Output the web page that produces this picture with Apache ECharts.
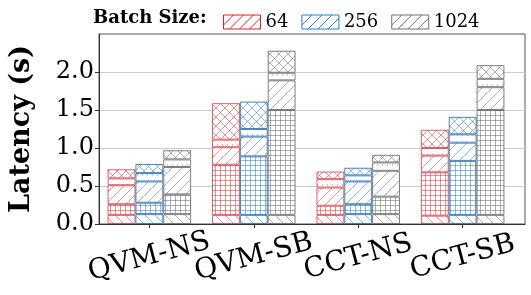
<!DOCTYPE html>
<html><head><meta charset="utf-8">
<script src="https://cdn.jsdelivr.net/npm/echarts@6/dist/echarts.min.js"></script>
<style>html,body{margin:0;padding:0;background:#fff}#c{width:531px;height:295px}</style>
</head><body><div id="c"></div>
<script>
const categories = ['QVM-NS', 'QVM-SB', 'CCT-NS', 'CCT-SB'];
const batchSizes = ['64', '256', '1024'];
const yTicks = [0, 0.5, 1.0, 1.5, 2.0];

// segment heights (s), bottom -> top: back-hatch, grid, forward-hatch, dots, cross
const lat64Back   = [0.12, 0.12, 0.12, 0.11];
const lat64Grid   = [0.14, 0.66, 0.12, 0.57];
const lat64Fwd    = [0.25, 0.23, 0.24, 0.22];
const lat64Dots   = [0.09, 0.10, 0.11, 0.10];
const lat64Cross  = [0.12, 0.48, 0.10, 0.24];

const lat256Back  = [0.13, 0.12, 0.13, 0.12];
const lat256Grid  = [0.15, 0.77, 0.13, 0.71];
const lat256Fwd   = [0.28, 0.26, 0.30, 0.24];
const lat256Dots  = [0.11, 0.10, 0.08, 0.11];
const lat256Cross = [0.12, 0.36, 0.10, 0.23];

const lat1024Back  = [0.13, 0.12, 0.13, 0.12];
const lat1024Grid  = [0.26, 1.38, 0.23, 1.38];
const lat1024Fwd   = [0.36, 0.39, 0.34, 0.30];
const lat1024Dots  = [0.10, 0.10, 0.11, 0.11];
const lat1024Cross = [0.12, 0.29, 0.10, 0.18];

const segKinds = ['back', 'grid', 'fwd', 'dots', 'cross'];
const batchData = {
  '64':   [lat64Back, lat64Grid, lat64Fwd, lat64Dots, lat64Cross],
  '256':  [lat256Back, lat256Grid, lat256Fwd, lat256Dots, lat256Cross],
  '1024': [lat1024Back, lat1024Grid, lat1024Fwd, lat1024Dots, lat1024Cross]
};
const hatchColor = { '64': 'rgba(214,39,40,0.5)', '256': 'rgba(31,119,180,0.5)', '1024': 'rgba(110,110,110,0.55)' };
const edgeColor  = { '64': 'rgba(205,45,60,0.75)', '256': 'rgba(31,100,180,0.8)', '1024': 'rgba(105,105,105,0.85)' };
const legendColor = { '64': '#e02020', '256': '#2a7ad0', '1024': '#707070' };

function pattern(kind, color) {
  let w = 10, h = 10;
  if (kind === 'grid') { w = 5; h = 5; }
  if (kind === 'dots') { w = 5; h = 10; }
  if (kind === 'cross') { w = 9; h = 9; }
  const c = document.createElement('canvas');
  c.width = w; c.height = h;
  const g = c.getContext('2d');
  g.fillStyle = '#fff'; g.fillRect(0, 0, w, h);
  g.strokeStyle = color; g.fillStyle = color; g.lineWidth = 1;
  const line = (x1, y1, x2, y2) => { g.beginPath(); g.moveTo(x1, y1); g.lineTo(x2, y2); g.stroke(); };
  const back = () => { line(-1, -1, w + 1, h + 1); line(w - 1, -1, w + 1, 1); line(-1, h - 1, 1, h + 1); };
  const fwd = () => { line(-1, h + 1, w + 1, -1); line(-1, 1, 1, -1); line(w - 1, h + 1, w + 1, h - 1); };
  if (kind === 'back') back();
  else if (kind === 'fwd') fwd();
  else if (kind === 'cross') { back(); fwd(); }
  else if (kind === 'grid') { line(0.5, 0, 0.5, h); line(0, 0.5, w, 0.5); }
  else if (kind === 'dots') { g.beginPath(); g.arc(2.5, 5, 0.8, 0, Math.PI * 2); g.fill(); }
  return { image: c, repeat: 'repeat' };
}

const chart = echarts.init(document.getElementById('c'), null, { renderer: 'canvas' });
// frame grid spans the full plot box; bar grid is narrower so that category bands match
const frameL = 87, frameR = 6, gridT = 34, gridB = 71;
const xMin = -0.597, xMax = 3.597;
const unitPx = (531 - frameL - frameR) / (xMax - xMin);
const barL = frameL + (-0.5 - xMin) * unitPx;
const barR = frameR + (xMax - 3.5) * unitPx;
const barW = (0.8 / 3) * unitPx;
const serif = 'DejaVu Serif';

const series = [];
batchSizes.forEach(b => {
  segKinds.forEach((k, si) => {
    series.push({
      name: k === 'fwd' ? b : b + '-' + k,
      type: 'bar',
      xAxisIndex: 0, yAxisIndex: 0,
      stack: 'bs' + b,
      barWidth: barW,
      barGap: '0%',
      data: batchData[b][si],
      itemStyle: { color: pattern(k, hatchColor[b]), borderColor: edgeColor[b], borderWidth: 1 },
      emphasis: { disabled: true }
    });
  });
});

chart.setOption({
  animation: false,
  title: { text: 'Batch Size:', left: 93, top: 9, padding: 0, textStyle: { fontFamily: serif, fontWeight: 'bold', fontSize: 18, color: '#000' } },
  legend: {
    data: batchSizes.map(b => ({ name: b, icon: 'rect', itemStyle: { color: pattern('fwd', legendColor[b]), borderColor: legendColor[b], borderWidth: 1 } })),
    left: 223, top: 13, padding: 0, itemWidth: 37, itemHeight: 14, itemGap: 13, selectedMode: false,
    textStyle: { fontFamily: serif, fontSize: 18, color: '#000' }
  },
  grid: [
    { left: barL, right: barR, top: gridT, bottom: gridB },
    { left: frameL, right: frameR, top: gridT, bottom: gridB, show: true, borderColor: '#555', borderWidth: 1 }
  ],
  xAxis: [
    {
      type: 'category', gridIndex: 0, data: categories,
      axisLine: { show: false },
      axisTick: { show: true, alignWithLabel: true, length: 4, lineStyle: { color: '#333' } },
      axisLabel: { interval: 0, hideOverlap: false, rotate: 15, align: 'center', verticalAlign: 'middle', margin: 33, fontFamily: serif, fontSize: 28, color: '#000' }
    },
    {
      type: 'value', gridIndex: 1, min: 0, max: 1,
      axisLine: { show: true, onZero: false, lineStyle: { color: '#333' } },
      axisTick: { show: false }, axisLabel: { show: false }, splitLine: { show: false }
    }
  ],
  yAxis: [
    { type: 'value', gridIndex: 0, min: 0, max: 2.5, show: false, splitLine: { show: false } },
    {
      type: 'value', gridIndex: 1, min: 0, max: 2.5, interval: 0.5,
      name: 'Latency (s)', nameLocation: 'middle', nameGap: 64,
      nameTextStyle: { fontFamily: serif, fontWeight: 'bold', fontSize: 27, color: '#000' },
      axisLine: { show: true, onZero: false, lineStyle: { color: '#333' } },
      axisTick: { show: true, length: 4, customValues: yTicks, lineStyle: { color: '#333' } },
      axisLabel: { customValues: yTicks, formatter: v => v.toFixed(1), margin: 5, fontFamily: serif, fontSize: 24, color: '#000' },
      splitLine: { show: true, lineStyle: { color: '#cccccc', width: 1 } }
    }
  ],
  series: series
});
</script></body></html>
